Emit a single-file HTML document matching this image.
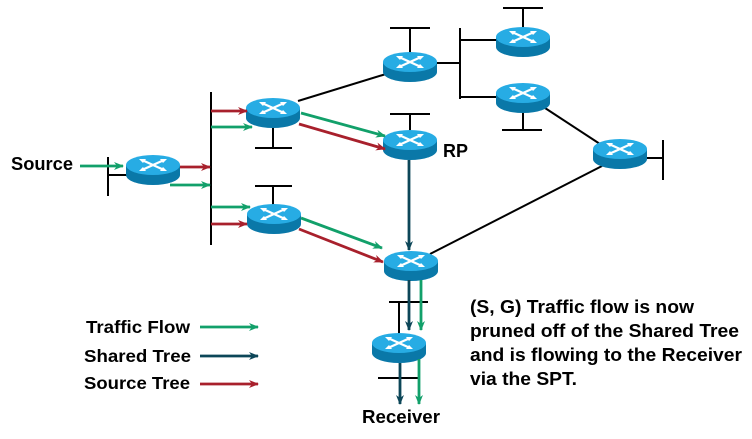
<!DOCTYPE html>
<html><head><meta charset="utf-8"><style>
html,body{margin:0;padding:0;background:#fff;}
svg{display:block;}
text{font-family:"Liberation Sans",Arial,sans-serif;font-weight:bold;fill:#000;}
</style></head><body>
<svg width="752" height="439" viewBox="0 0 752 439" xmlns="http://www.w3.org/2000/svg">
<defs>
<g id="r">
<path d="M0,10 v10 a27,10 0 0 0 54,0 v-10 z" fill="#0a78a8"/>
<ellipse cx="27" cy="10" rx="27" ry="10" fill="#27ace4"/>
<g stroke="#fff" stroke-width="2.2" fill="none">
<line x1="16" y1="5" x2="38" y2="15"/>
<line x1="38" y1="5" x2="16" y2="15"/>
</g>
<g fill="#fff">
<polygon points="13,4 20,4 17,8"/>
<polygon points="41,16 34,16 37,12"/>
<polygon points="41,4 34,4 37,8"/>
<polygon points="13,16 20,16 17,12"/>
</g>
</g>
<marker id="ag" markerWidth="10" markerHeight="8" refX="9" refY="4" orient="auto" markerUnits="userSpaceOnUse"><path d="M0,0 L10,4 L0,8 L3,4z" fill="#12a06a"/></marker>
<marker id="ar" markerWidth="10" markerHeight="8" refX="9" refY="4" orient="auto" markerUnits="userSpaceOnUse"><path d="M0,0 L10,4 L0,8 L3,4z" fill="#a8202c"/></marker>
<marker id="ad" markerWidth="10" markerHeight="8" refX="9" refY="4" orient="auto" markerUnits="userSpaceOnUse"><path d="M0,0 L10,4 L0,8 L3,4z" fill="#0c4658"/></marker>
</defs>

<g stroke="#000" stroke-width="2" fill="none">
<line x1="108" y1="157" x2="108" y2="196"/>
<line x1="108" y1="175" x2="128" y2="175"/>
<line x1="211" y1="92" x2="211" y2="245"/>
<line x1="273" y1="128" x2="273" y2="148"/>
<line x1="255" y1="148" x2="292" y2="148"/>
<line x1="273" y1="186" x2="273" y2="206"/>
<line x1="255" y1="186" x2="292" y2="186"/>
<line x1="298" y1="101" x2="386" y2="74"/>
<line x1="410" y1="28" x2="410" y2="54"/>
<line x1="390" y1="28" x2="430" y2="28"/>
<line x1="436" y1="63" x2="460" y2="63"/>
<line x1="460" y1="28" x2="460" y2="99"/>
<line x1="460" y1="40" x2="498" y2="40"/>
<line x1="460" y1="97" x2="498" y2="97"/>
<line x1="523" y1="8" x2="523" y2="28"/>
<line x1="503" y1="8" x2="543" y2="8"/>
<line x1="523" y1="110" x2="523" y2="130"/>
<line x1="502" y1="130" x2="542" y2="130"/>
<line x1="545" y1="108" x2="600" y2="144"/>
<line x1="646" y1="158" x2="663" y2="158"/>
<line x1="663" y1="140" x2="663" y2="180"/>
<line x1="410" y1="114" x2="410" y2="132"/>
<line x1="390" y1="114" x2="430" y2="114"/>
<line x1="430" y1="254" x2="602" y2="166"/>
<line x1="389" y1="302" x2="428" y2="302"/>
<line x1="399" y1="302" x2="399" y2="334"/>
<line x1="378" y1="378" x2="418" y2="378"/>
</g>

<use href="#r" x="126" y="155"/>
<use href="#r" x="246" y="98"/>
<use href="#r" x="247" y="204"/>
<use href="#r" x="383" y="52"/>
<use href="#r" x="383" y="130"/>
<use href="#r" x="496" y="27"/>
<use href="#r" x="496" y="83"/>
<use href="#r" x="593" y="139"/>
<use href="#r" x="384" y="251"/>
<use href="#r" x="372" y="333"/>

<g stroke-width="2.8" fill="none">
<line x1="80" y1="166" x2="123" y2="166" stroke="#12a06a" marker-end="url(#ag)"/>
<line x1="180" y1="167" x2="210" y2="167" stroke="#a8202c" marker-end="url(#ar)"/>
<line x1="170" y1="185" x2="210" y2="185" stroke="#12a06a" marker-end="url(#ag)"/>
<line x1="211" y1="111" x2="247" y2="111" stroke="#a8202c" marker-end="url(#ar)"/>
<line x1="211" y1="127" x2="252" y2="127" stroke="#12a06a" marker-end="url(#ag)"/>
<line x1="211" y1="207" x2="250" y2="207" stroke="#12a06a" marker-end="url(#ag)"/>
<line x1="211" y1="224" x2="247" y2="224" stroke="#a8202c" marker-end="url(#ar)"/>
<line x1="301" y1="113" x2="385" y2="136" stroke="#12a06a" marker-end="url(#ag)"/>
<line x1="299" y1="124" x2="385" y2="149" stroke="#a8202c" marker-end="url(#ar)"/>
<line x1="301" y1="218" x2="382" y2="248" stroke="#12a06a" marker-end="url(#ag)"/>
<line x1="299" y1="229" x2="383" y2="262" stroke="#a8202c" marker-end="url(#ar)"/>
<line x1="409" y1="160" x2="409" y2="250" stroke="#0c4658" marker-end="url(#ad)"/>
<line x1="409" y1="280" x2="409" y2="330" stroke="#0c4658" marker-end="url(#ad)"/>
<line x1="421" y1="280" x2="421" y2="330" stroke="#12a06a" marker-end="url(#ag)"/>
<line x1="400" y1="363" x2="400" y2="404" stroke="#0c4658" marker-end="url(#ad)"/>
<line x1="419" y1="359" x2="419" y2="404" stroke="#12a06a" marker-end="url(#ag)"/>
<line x1="200" y1="327" x2="258" y2="327" stroke="#12a06a" marker-end="url(#ag)"/>
<line x1="200" y1="356" x2="258" y2="356" stroke="#0c4658" marker-end="url(#ad)"/>
<line x1="200" y1="384" x2="258" y2="384" stroke="#a8202c" marker-end="url(#ar)"/>
</g>

<text x="11" y="170" font-size="18.4" textLength="62" lengthAdjust="spacingAndGlyphs">Source</text>
<text x="443" y="157" font-size="18">RP</text>
<text x="362" y="423" font-size="18.6" textLength="78" lengthAdjust="spacingAndGlyphs">Receiver</text>
<text x="86" y="333" font-size="17.5" textLength="104" lengthAdjust="spacingAndGlyphs">Traffic Flow</text>
<text x="84" y="362" font-size="17.5" textLength="107" lengthAdjust="spacingAndGlyphs">Shared Tree</text>
<text x="84" y="389" font-size="17.5" textLength="106" lengthAdjust="spacingAndGlyphs">Source Tree</text>
<g font-size="18.5">
<text x="470" y="313" textLength="224" lengthAdjust="spacingAndGlyphs">(S, G) Traffic flow is now</text>
<text x="470" y="337" textLength="269" lengthAdjust="spacingAndGlyphs">pruned off of the Shared Tree</text>
<text x="470" y="361" textLength="272" lengthAdjust="spacingAndGlyphs">and is flowing to the Receiver</text>
<text x="470" y="385" textLength="107" lengthAdjust="spacingAndGlyphs">via the SPT.</text>
</g>
</svg>
</body></html>
